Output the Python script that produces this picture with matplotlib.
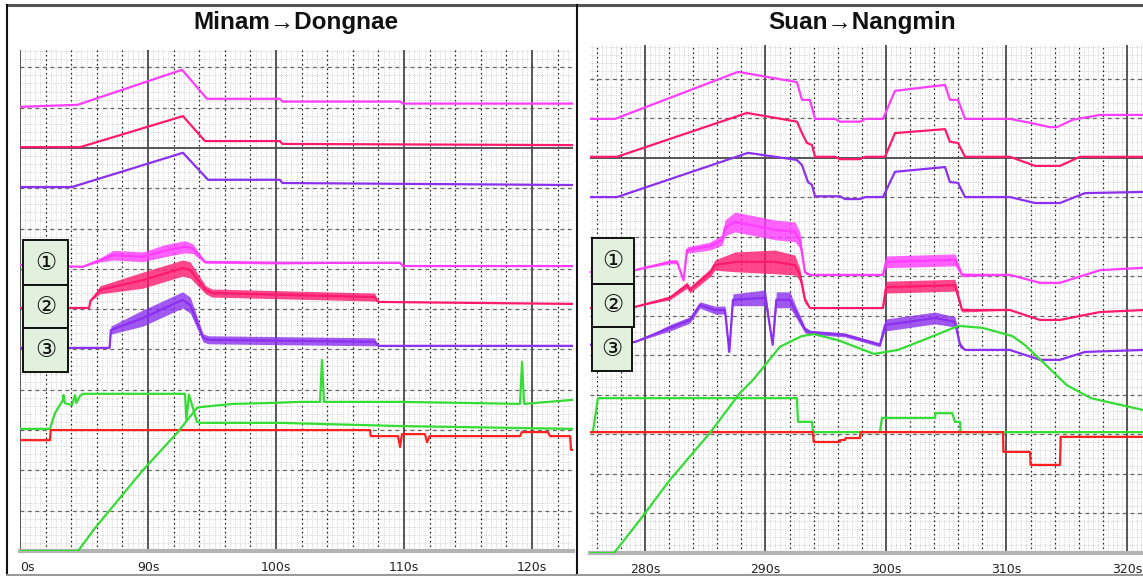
import numpy as np
import matplotlib
matplotlib.use("Agg")
import matplotlib.pyplot as plt
from matplotlib.patches import Rectangle
from matplotlib.lines import Line2D

# ---------------- Minam -> Dongnae (left) ----------------
L_XLIM = (80, 123.2)
L_YTOP = 12.43
L_TICKS = [80, 90, 100, 110, 120]
L_TICKLABELS = ["0s", "90s", "100s", "110s", "120s"]

# top smooth traces
L_A_T = [80, 84.5, 92.66, 94.6, 100.3, 100.5, 109.7, 109.9, 123.2]
L_A_Y = [11.02, 11.07, 11.94, 11.22, 11.22, 11.15, 11.15, 11.10, 11.10]
L_B_T = [80, 84.7, 92.73, 94.45, 100.3, 100.5, 123.2]
L_B_Y = [10.02, 10.02, 10.79, 10.17, 10.17, 10.10, 10.07]
L_C_T = [80, 84.06, 92.73, 94.69, 100.3, 100.5, 123.2]
L_C_Y = [9.03, 9.03, 9.88, 9.21, 9.21, 9.13, 9.08]

# noisy traces: centre + half width of the noise band
L_D_T = [80, 84.9, 86.25, 87.27, 89.6, 91.3, 92.9, 93.5, 94.45, 100.3, 109.7, 109.9, 123.2]
L_D_Y = [7.10, 7.05, 7.22, 7.34, 7.30, 7.45, 7.55, 7.50, 7.17, 7.15, 7.15, 7.07, 7.07]
L_D_N = [0, 0, 0.05, 0.12, 0.12, 0.15, 0.15, 0.12, 0.03, 0.03, 0, 0, 0]
L_E_T = [80, 85.4, 85.5, 86.25, 89.6, 92.7, 93.3, 94.5, 95.0, 107.7, 108.0, 123.2]
L_E_Y = [6.03, 6.03, 6.20, 6.48, 6.72, 7.02, 6.97, 6.48, 6.40, 6.30, 6.18, 6.13]
L_E_N = [0, 0, 0, 0.10, 0.20, 0.20, 0.20, 0.10, 0.10, 0.10, 0, 0]
L_F_T = [80, 87.0, 87.1, 89.6, 92.7, 93.3, 94.3, 94.7, 107.7, 108.0, 123.2]
L_F_Y = [5.04, 5.04, 5.48, 5.78, 6.23, 6.10, 5.29, 5.24, 5.19, 5.09, 5.09]
L_F_N = [0, 0, 0.10, 0.20, 0.20, 0.20, 0.10, 0.10, 0.10, 0, 0]

# green step trace
L_G1_T = [80, 82.34, 82.73, 83.36, 83.4, 83.5, 84.06, 84.3, 84.4, 84.69, 84.92,
          92.89, 93.0, 93.2, 93.83, 94.06, 100.16, 109.7, 123.2]
L_G1_Y = [3.03, 3.03, 3.42, 3.75, 3.87, 3.67, 3.62, 3.87, 3.67, 3.85, 3.90,
          3.90, 3.25, 3.88, 3.20, 3.18, 3.18, 3.10, 3.03]
# green ramp trace
L_G2_T = [80, 84.53, 85.86, 89.61, 92.27, 93.83, 94.06, 96.64, 99.3, 101.88, 103.44,
          103.59, 103.75, 109.69, 119.06, 119.22, 119.38, 123.2]
L_G2_Y = [0, 0, 0.57, 2.01, 2.93, 3.55, 3.57, 3.65, 3.67, 3.70, 3.70,
          4.74, 3.70, 3.70, 3.65, 4.69, 3.65, 3.75]
# red trace
L_R_T = [80, 82.34, 82.4, 107.34, 107.4, 109.53, 109.69, 109.84, 111.64, 111.8, 112.0,
         119.06, 119.2, 121.25, 121.4, 122.97, 123.05, 123.2]
L_R_Y = [2.75, 2.75, 3.0, 3.0, 2.85, 2.85, 2.58, 2.90, 2.90, 2.70, 2.85,
         2.85, 2.95, 2.95, 2.85, 2.85, 2.51, 2.51]

# ---------------- Suan -> Nangmin (right) ----------------
R_XLIM = (275.44, 321.33)
R_YTOP = 12.86
R_TICKS = [280, 290, 300, 310, 320]
R_TICKLABELS = ["280s", "290s", "300s", "310s", "320s"]

R_A_T = [275.44, 277.51, 287.72, 292.61, 293.03, 293.69, 294.11, 295.77, 296.18, 297.84, 298.3,
         299.75, 300.75, 304.9, 305.31, 305.98, 306.56, 310.29, 311.95, 313.61, 314.19, 315.52,
         317.76, 321.33]
R_A_Y = [10.99, 10.99, 12.18, 11.92, 11.47, 11.47, 10.99, 10.99, 10.92, 10.92, 10.99,
         10.99, 11.70, 11.85, 11.47, 11.47, 10.99, 10.99, 10.89, 10.78, 10.78, 10.97,
         11.09, 11.09]
R_B_T = [275.44, 277.68, 288.46, 292.61, 293.03, 293.44, 293.86, 294.11, 295.77, 296.18, 297.84,
         298.3, 299.92, 300.75, 304.9, 305.31, 305.98, 306.56, 310.29, 312.37, 314.44, 316.1, 321.33]
R_B_Y = [10.03, 10.03, 11.14, 10.92, 10.63, 10.38, 10.33, 10.03, 10.03, 9.97, 9.97,
         10.03, 10.03, 10.63, 10.73, 10.41, 10.38, 10.03, 10.03, 9.80, 9.80, 10.03, 10.03]
R_C_T = [275.44, 277.68, 288.55, 292.61, 293.03, 293.53, 293.86, 294.11, 296.18, 296.6, 297.84,
         298.3, 299.75, 300.75, 304.9, 305.31, 305.98, 306.56, 310.29, 312.37, 314.44, 316.51, 321.33]
R_C_Y = [9.01, 9.01, 10.13, 9.95, 9.82, 9.39, 9.32, 9.03, 9.03, 8.96, 8.96,
         9.01, 9.01, 9.65, 9.77, 9.39, 9.37, 9.01, 9.01, 8.86, 8.86, 9.11, 9.14]

R_D_T = [275.44, 279.17, 282.07, 282.66, 283.2, 283.49, 285.39, 286.39, 286.64, 287.47, 290.79,
         292.45, 292.86, 293.28, 293.69, 299.75, 300.0, 305.73, 306.31, 310.29, 312.78, 314.44,
         317.76, 321.33]
R_D_Y = [7.11, 7.16, 7.37, 7.37, 6.90, 7.67, 7.77, 7.92, 8.23, 8.38, 8.18,
         8.13, 7.92, 7.11, 7.04, 7.04, 7.37, 7.42, 7.04, 7.04, 6.84, 6.84,
         7.16, 7.22]
R_D_N = [0, 0, 0.05, 0.05, 0, 0.08, 0.10, 0.13, 0.20, 0.25, 0.25,
         0.25, 0.20, 0.05, 0, 0, 0.15, 0.15, 0.05, 0, 0, 0,
         0, 0]
R_E_T = [275.44, 279.17, 282.07, 283.49, 283.73, 285.39, 285.81, 287.47, 290.79, 292.45, 292.86,
         293.28, 293.69, 299.75, 300.0, 305.73, 306.31, 310.29, 312.78, 314.44, 317.76, 321.33]
R_E_Y = [6.20, 6.23, 6.46, 6.78, 6.66, 7.09, 7.29, 7.37, 7.37, 7.29, 7.04,
         6.41, 6.20, 6.20, 6.73, 6.78, 6.15, 6.15, 5.90, 5.90, 6.10, 6.15]
R_E_N = [0, 0, 0.05, 0.08, 0.08, 0.10, 0.13, 0.25, 0.30, 0.25, 0.15,
         0.08, 0, 0, 0.15, 0.15, 0.05, 0, 0, 0, 0, 0]
R_F_T = [275.44, 279.17, 282.07, 283.73, 284.56, 285.81, 286.64, 287.0, 287.3, 290.0, 290.6,
         290.9, 292.03, 292.45, 293.28, 293.69, 296.6, 299.5, 299.92, 304.07, 305.73, 306.14,
         306.56, 310.29, 312.78, 314.44, 316.51, 321.33]
R_F_Y = [5.27, 5.34, 5.70, 5.90, 6.28, 6.15, 6.15, 5.09, 6.41, 6.46, 5.27,
         6.41, 6.41, 6.15, 5.65, 5.59, 5.52, 5.27, 5.77, 5.95, 5.85, 5.27,
         5.14, 5.14, 4.89, 4.89, 5.09, 5.14]
R_F_N = [0, 0, 0.08, 0.08, 0.08, 0.10, 0.10, 0, 0.15, 0.20, 0,
         0.20, 0.20, 0.15, 0.08, 0.05, 0.05, 0.05, 0.15, 0.15, 0.13, 0.08,
         0, 0, 0, 0, 0, 0]

R_G1_T = [275.44, 275.68, 276.1, 292.61, 292.7, 293.86, 293.94, 299.5, 299.67, 304.07, 304.1,
          305.5, 305.73, 306.14, 306.2, 321.33]
R_G1_Y = [3.06, 3.06, 3.92, 3.92, 3.32, 3.32, 3.06, 3.06, 3.42, 3.42, 3.54,
          3.54, 3.32, 3.32, 3.06, 3.06]
R_G2_T = [275.44, 277.43, 279.59, 282.07, 285.39, 287.88, 288.96, 291.2, 293.0, 294.0, 296.0,
          299.0, 301.0, 303.5, 306.0, 308.0, 310.5, 311.5, 313.0, 315.0, 317.0, 321.33]
R_G2_Y = [0, 0, 0.84, 1.85, 3.04, 4.05, 4.38, 5.22, 5.49, 5.54, 5.39,
          5.04, 5.14, 5.44, 5.75, 5.70, 5.49, 5.27, 4.84, 4.25, 3.92, 3.62]
R_R_T = [275.44, 293.94, 294.0, 296.18, 296.2, 296.6, 296.65, 297.84, 297.9, 309.71, 309.75,
         311.95, 312.0, 314.44, 314.5, 321.33]
R_R_Y = [3.06, 3.06, 2.81, 2.81, 2.86, 2.86, 2.91, 2.91, 3.06, 3.06, 2.56,
         2.56, 2.23, 2.23, 2.94, 2.94]

MAGENTA = "#ff3cff"
PINK = "#ff1a6e"
PURPLE = "#8a30ee"
GREEN = "#33dd33"
RED = "#ff2020"


def draw_grid(ax, xlim, ytop):
    x0, x1 = xlim
    # fine dotted grid
    for x in np.arange(np.ceil(x0 / 0.4) * 0.4, x1, 0.4):
        ax.axvline(x, color="#c4c4c4", lw=0.6, ls=(0, (1, 1.6)), zorder=0)
    for y in np.arange(0.2, ytop, 0.2):
        ax.axhline(y, color="#c4c4c4", lw=0.6, ls=(0, (1, 1.6)), zorder=0)
    # 2 s dotted lines
    for x in np.arange(np.ceil(x0 / 2) * 2, x1, 2):
        if x % 10:
            ax.axvline(x, color="#222222", lw=0.9, ls=(0, (1.2, 2.4)), zorder=1)
    # unit dashed lines
    for y in np.arange(1, ytop, 1):
        if y != 10:
            ax.axhline(y, color="#666666", lw=0.9, ls=(0, (3, 3)), zorder=1)
    # major lines
    for x in np.arange(np.ceil(x0 / 10) * 10, x1, 10):
        ax.axvline(x, color="#4a4a4a", lw=1.3, zorder=1)
    ax.axhline(10, color="#4a4a4a", lw=1.3, zorder=1)


def noisy(ax, t, y, n, color):
    t = np.array(t)
    y = np.array(y)
    n = np.array(n)
    ax.fill_between(t, y - n, y + n, color=color, alpha=0.8, lw=0, zorder=3)
    ax.plot(t, y, color=color, lw=1.6, zorder=4)


def setup(ax, xlim, ytop, ticks, labels):
    ax.set_xlim(*xlim)
    ax.set_ylim(0, ytop)
    ax.set_facecolor("white")
    draw_grid(ax, xlim, ytop)
    for s in ["top", "left", "right"]:
        ax.spines[s].set_visible(False)
    ax.spines["bottom"].set_color("#b4b4b4")
    ax.spines["bottom"].set_linewidth(3)
    ax.set_yticks([])
    ax.set_xticks(ticks)
    ax.set_xticklabels(labels, fontsize=9, color="#222222")
    ax.tick_params(axis="x", length=0, pad=7)


fig = plt.figure(figsize=(11.43, 5.76), dpi=100)
fig.patch.set_facecolor("white")

axl = fig.add_axes([20 / 1143, 25 / 576, 553 / 1143, 501 / 576])
setup(axl, L_XLIM, L_YTOP, L_TICKS, L_TICKLABELS)
axl.get_xticklabels()[0].set_horizontalalignment("left")

axl.plot(L_A_T, L_A_Y, color=MAGENTA, lw=1.6, zorder=4)
axl.plot(L_B_T, L_B_Y, color=PINK, lw=1.6, zorder=4)
axl.plot(L_C_T, L_C_Y, color=PURPLE, lw=1.6, zorder=4)
noisy(axl, L_D_T, L_D_Y, L_D_N, MAGENTA)
noisy(axl, L_E_T, L_E_Y, L_E_N, PINK)
noisy(axl, L_F_T, L_F_Y, L_F_N, PURPLE)
axl.plot(L_G1_T, L_G1_Y, color=GREEN, lw=1.6, zorder=4)
axl.plot(L_R_T, L_R_Y, color=RED, lw=1.6, zorder=5)
axl.plot(L_G2_T, L_G2_Y, color=GREEN, lw=1.6, zorder=5)

axr = fig.add_axes([590 / 1143, 23 / 576, 553 / 1143, 508 / 576])
setup(axr, R_XLIM, R_YTOP, R_TICKS, R_TICKLABELS)

axr.plot(R_A_T, R_A_Y, color=MAGENTA, lw=1.6, zorder=4)
axr.plot(R_B_T, R_B_Y, color=PINK, lw=1.6, zorder=4)
axr.plot(R_C_T, R_C_Y, color=PURPLE, lw=1.6, zorder=4)
noisy(axr, R_D_T, R_D_Y, R_D_N, MAGENTA)
noisy(axr, R_E_T, R_E_Y, R_E_N, PINK)
noisy(axr, R_F_T, R_F_Y, R_F_N, PURPLE)
axr.plot(R_G1_T, R_G1_Y, color=GREEN, lw=1.6, zorder=4)
axr.plot(R_R_T, R_R_Y, color=RED, lw=1.6, zorder=5)
axr.plot(R_G2_T, R_G2_Y, color=GREEN, lw=1.6, zorder=5)

# panel frames
W, H = 1143, 576
fig.add_artist(Line2D([8 / W, 1], [1 - 5 / H, 1 - 5 / H], color="#555555", lw=2.2))
fig.add_artist(Line2D([7 / W, 7 / W], [0, 1 - 5 / H], color="#111111", lw=1.5))
fig.add_artist(Line2D([577 / W, 577 / W], [0, 1 - 5 / H], color="#111111", lw=1.5))
fig.add_artist(Line2D([7 / W, 1], [1 / H, 1 / H], color="#999999", lw=1.5))

# titles
title_font = dict(family=["Liberation Sans", "DejaVu Sans"], fontsize=17.5,
                  fontweight="bold", ha="center", va="center", color="#111111")
fig.text(296 / W, 1 - 23 / H, "Minam→Dongnae", **title_font)
fig.text(862 / W, 1 - 22 / H, "Suan→Nangmin", **title_font)

# numbered boxes
labels = ["①", "②", "③"]
left_boxes = [(23, 240, 45, 45), (23, 285, 45, 43), (23, 328, 45, 44)]
right_boxes = [(592, 238, 42, 46), (592, 284, 42, 43), (592, 327, 40, 44)]
for boxes in (left_boxes, right_boxes):
    for lab, (bx, by, bw, bh) in zip(labels, boxes):
        fig.add_artist(Rectangle((bx / W, 1 - (by + bh) / H), bw / W, bh / H,
                                 facecolor="#e2f1de", edgecolor="#111111", lw=1.4,
                                 transform=fig.transFigure))
        fig.text((bx + bw / 2) / W, 1 - (by + bh / 2) / H, lab, fontsize=17,
                 family=["DejaVu Sans", "Noto Sans CJK JP"], ha="center", va="center",
                 color="#111111")

fig.savefig("out.png", dpi=100)
